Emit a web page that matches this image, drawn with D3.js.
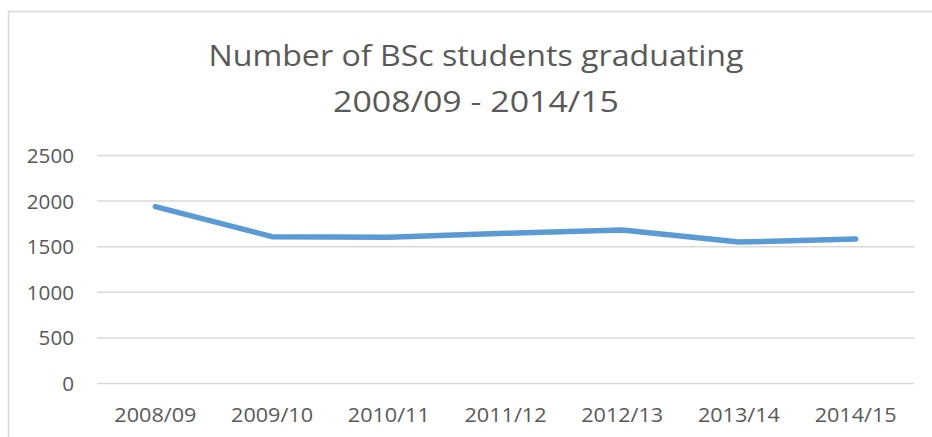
<!DOCTYPE html>
<html>
<head>
<meta charset="utf-8">
<title>Number of BSc students graduating</title>
<script src="https://cdn.jsdelivr.net/npm/d3@7"></script>
<style>
  body { margin: 0; background: #fff; }
  text { font-family: "Open Sans", sans-serif; fill: #595959; }
</style>
</head>
<body>
<div id="chart"></div>
<script>
  // data
  var years = ['2008/09', '2009/10', '2010/11', '2011/12', '2012/13', '2013/14', '2014/15'];
  var graduates = [1940, 1610, 1603, 1647, 1683, 1551, 1584];
  var yTicks = [0, 500, 1000, 1500, 2000, 2500];
  var titleLines = ['Number of BSc students graduating', '2008/09 - 2014/15'];

  var W = 932, H = 437;
  var svg = d3.select('#chart').append('svg')
    .attr('width', W).attr('height', H);

  // chart frame (only top and left edges are inside the picture)
  svg.append('path')
    .attr('d', 'M8.5,' + H + 'V11.5H' + W)
    .attr('fill', 'none')
    .attr('stroke', '#d9d9d9')
    .attr('stroke-width', 1.5);

  // the Excel text is a bit wider than our fonts, stretch it to the measured width
  var fitWidth = function (sel, width) {
    sel.attr('textLength', width).attr('lengthAdjust', 'spacingAndGlyphs');
  };

  var title = svg.append('g');
  title.append('text')
    .attr('x', 476).attr('y', 66)
    .attr('text-anchor', 'middle')
    .style('font-size', '29px')
    .text(titleLines[0])
    .call(fitWidth, 535);
  title.append('text')
    .attr('x', 476).attr('y', 112)
    .attr('text-anchor', 'middle')
    .style('font-size', '29px')
    .text(titleLines[1])
    .call(fitWidth, 286);

  var x = d3.scaleBand().domain(years).range([97, 914]);
  var y = d3.scaleLinear().domain([0, 2500]).range([383.5, 155.5]);

  // horizontal grid
  svg.append('g')
    .selectAll('line')
    .data(yTicks)
    .join('line')
    .attr('x1', x.range()[0]).attr('x2', x.range()[1])
    .attr('y1', d => y(d)).attr('y2', d => y(d))
    .attr('stroke', '#d9d9d9')
    .attr('stroke-width', 1.5);

  // y axis labels
  var yAxis = svg.append('g')
    .attr('transform', 'translate(74,0)')
    .call(d3.axisLeft(y).tickValues(yTicks).tickFormat(d3.format('d')).tickSize(0).tickPadding(0));
  yAxis.select('.domain').remove();
  yAxis.selectAll('text')
    .style('font-size', '19.5px')
    .attr('dy', '0.36em')
    .each(function (d) {
      d3.select(this).call(fitWidth, String(d).length * 11.8);
    });

  // x axis labels
  var xAxis = svg.append('g')
    .attr('transform', 'translate(0,' + 408 + ')')
    .call(d3.axisBottom(x).tickSize(0).tickPadding(0));
  xAxis.select('.domain').remove();
  xAxis.selectAll('text')
    .style('font-size', '20px')
    .attr('dy', '0.71em')
    .call(fitWidth, 82);

  // the series
  var line = d3.line()
    .x((d, i) => x(years[i]) + x.bandwidth() / 2)
    .y(d => y(d));

  svg.append('path')
    .datum(graduates)
    .attr('d', line)
    .attr('fill', 'none')
    .attr('stroke', '#5b9bd5')
    .attr('stroke-width', 5.5)
    .attr('stroke-linecap', 'round')
    .attr('stroke-linejoin', 'round');
</script>
</body>
</html>
